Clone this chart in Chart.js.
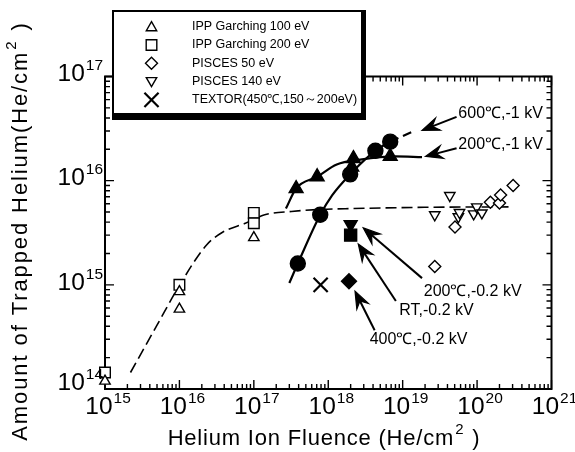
<!DOCTYPE html>
<html>
<head>
<meta charset="utf-8">
<script src="https://cdn.jsdelivr.net/npm/chart.js@4/dist/chart.umd.min.js"></script>
<style>
  html, body { margin: 0; padding: 0; background: #fff; }
  canvas { display: block; }
</style>
</head>
<body>
<canvas id="chart" width="575" height="452"></canvas>
<script>
// ---- data (He/cm^2) ----
const xTickExps = [15, 16, 17, 18, 19, 20, 21];
const yTickExps = [14, 15, 16, 17];

const ipp100X = [1e15, 1e16, 1e16, 1e17];
const ipp100Y = [1.19e14, 8.6e14, 5.85e14, 2.84e15];
const ipp200X = [1e15, 1e16, 1e17, 1e17];
const ipp200Y = [1.44e14, 1.0e15, 4.9e15, 3.9e15];
const pisces50X = [2.7e19, 5.05e19, 1.51e20, 2.0e20, 2.07e20, 3.05e20];
const pisces50Y = [1.5e15, 3.6e15, 6.2e15, 6.1e15, 7.3e15, 9.0e15];
const pisces140X = [2.7e19, 4.3e19, 5.6e19, 5.8e19, 9.0e19, 9.9e19, 1.16e20];
const pisces140Y = [4.7e15, 7.2e15, 4.5e15, 4.95e15, 4.8e15, 5.6e15, 4.9e15];
const textorX = [7.9e17];
const textorY = [1.0e15];

const c600kvX = [3.9e17, 7.8e17, 1.97e18, 4.3e18, 6.8e18];
const c600kvY = [1.6e15, 4.7e15, 1.15e16, 1.94e16, 2.37e16];
const c200kvX = [3.7e17, 7.1e17, 2.07e18, 2.18e18, 6.8e18];
const c200kvY = [8.4e15, 1.09e16, 1.35e16, 1.63e16, 1.71e16];
const c200lowX = [2e18];
const c200lowY = [3.8e15];
const rtLowX = [2e18];
const rtLowY = [3.0e15];
const c400lowX = [1.9e18];
const c400lowY = [1.08e15];

// guide curves
const fitX = [2.2e15, 5.0e15, 1.01e16, 2.3e16, 3.8e16, 7.7e16, 1.4e17, 3.2e17, 7.9e17, 2.2e18, 2.0e19, 3.0e20];
const fitY = [1.44e14, 4.1e14, 1.0e15, 2.4e15, 3.2e15, 3.9e15, 4.7e15, 5.06e15, 5.3e15, 5.4e15, 5.55e15, 5.6e15];
const curve600X = [3.0e17, 3.9e17, 7.8e17, 1.12e18, 1.97e18, 4.3e18, 6.8e18];
const curve600Y = [1.04e15, 1.6e15, 4.7e15, 7.2e15, 1.15e16, 1.94e16, 2.37e16];
const ext600X = [6.8e18, 1.42e19];
const ext600Y = [2.37e16, 3.0e16];
const curve200X = [2.7e17, 3.7e17, 7.1e17, 1.3e18, 2.7e18, 8.0e18, 1.82e19];
const curve200Y = [5.4e15, 8.4e15, 1.09e16, 1.43e16, 1.59e16, 1.71e16, 1.68e16];

const legendLabels = ['IPP Garching 100 eV', 'IPP Garching 200 eV', 'PISCES 50 eV', 'PISCES 140 eV', 'TEXTOR(450\u2103,150\uFF5E200eV)'];

const noteTexts = ['600\u2103,-1 kV', '200\u2103,-1 kV', '200\u2103,-0.2 kV', 'RT,-0.2 kV', '400\u2103,-0.2 kV'];
const noteAtX = [5.6e19, 5.6e19, 1.92e19, 9.0e18, 3.6e18];
const noteAtY = [4.36e16, 2.2e16, 8.7e14, 5.65e14, 2.96e14];
const arrowFromX = [5.3e19, 5.3e19, 1.82e19, 8.1e18, 4.2e18];
const arrowFromY = [4.1e16, 2.05e16, 1.16e15, 7.0e14, 3.66e14];
const arrowToX = [1.82e19, 2.02e19, 2.95e18, 2.53e18, 2.29e18];
const arrowToY = [3.04e16, 1.71e16, 3.52e15, 2.47e15, 8.7e14];

const FONT = '"Liberation Sans", Arial, Helvetica, sans-serif';

const pts = (xs, ys) => xs.map((x, i) => ({ x, y: ys[i] }));

function markerSet(label, xs, ys, style, radius, filled, extra) {
  return Object.assign({
    label, data: pts(xs, ys), pointStyle: style, pointRadius: radius,
    pointBorderColor: '#000', pointBackgroundColor: filled ? '#000' : '#fff',
    pointBorderWidth: 1.4, showLine: false, order: 0, clip: false,
  }, extra || {});
}

function lineSet(label, xs, ys, width, dash) {
  return {
    label, data: pts(xs, ys), showLine: true, pointRadius: 0, borderColor: '#000',
    borderWidth: width, borderDash: dash || [], tension: 0.4, cubicInterpolationMode: 'monotone',
    order: 10,
  };
}

function drawPow(ctx, exp, x, y, align, big, small, rise) {
  ctx.font = `${big}px ${FONT}`;
  const wb = ctx.measureText('10').width;
  ctx.font = `${small}px ${FONT}`;
  const we = ctx.measureText(String(exp)).width;
  const total = wb + 1 + we;
  const x0 = align === 'right' ? x - total : align === 'center' ? x - total / 2 : x;
  ctx.textAlign = 'left';
  ctx.textBaseline = 'middle';
  ctx.font = `${big}px ${FONT}`;
  ctx.fillText('10', x0, y);
  ctx.font = `${small}px ${FONT}`;
  ctx.fillText(String(exp), x0 + wb + 1, y - rise);
}

// text with a superscript 2 inside, e.g. "(He/cm² )"
function drawTitle(ctx, pre, post, cx, cy, big, small) {
  ctx.font = `${big}px ${FONT}`;
  const w1 = ctx.measureText(pre).width;
  const w3 = ctx.measureText(post).width;
  ctx.font = `${small}px ${FONT}`;
  const w2 = ctx.measureText('2').width;
  let x = cx - (w1 + w2 + w3 + 2) / 2;
  ctx.textAlign = 'left';
  ctx.textBaseline = 'middle';
  ctx.font = `${big}px ${FONT}`;
  ctx.fillText(pre, x, cy);
  x += w1 + 1;
  ctx.font = `${small}px ${FONT}`;
  ctx.fillText('2', x, cy - big * 0.42);
  x += w2 + 1;
  ctx.font = `${big}px ${FONT}`;
  ctx.fillText(post, x, cy);
}

function drawArrow(ctx, x1, y1, x2, y2) {
  const a = Math.atan2(y2 - y1, x2 - x1);
  const len = 17, half = 6.5, notch = 11;
  ctx.beginPath();
  ctx.moveTo(x1, y1);
  ctx.lineTo(x2 - Math.cos(a) * notch, y2 - Math.sin(a) * notch);
  ctx.lineWidth = 2;
  ctx.stroke();
  const bx = x2 - Math.cos(a) * len, by = y2 - Math.sin(a) * len;
  const nx = -Math.sin(a) * half, ny = Math.cos(a) * half;
  ctx.beginPath();
  ctx.moveTo(x2, y2);
  ctx.lineTo(bx + nx, by + ny);
  ctx.lineTo(x2 - Math.cos(a) * notch, y2 - Math.sin(a) * notch);
  ctx.lineTo(bx - nx, by - ny);
  ctx.closePath();
  ctx.fill();
  ctx.lineWidth = 1.2;
  ctx.stroke();
}

function legendMarker(ctx, i, x, y) {
  ctx.lineWidth = 1.4;
  ctx.strokeStyle = '#000';
  ctx.fillStyle = '#fff';
  const styles = ['triangle', 'rect', 'rectRot', 'triangle', 'crossRot'];
  const radii = [6, 7.5, 6, 6, 10];
  const rot = i === 3 ? 180 : 0;
  if (i === 4) ctx.lineWidth = 2.2;
  Chart.helpers.drawPoint(ctx, { pointStyle: styles[i], radius: radii[i], rotation: rot, borderWidth: ctx.lineWidth }, x, y);
}

const decor = {
  id: 'decor',
  beforeDatasetsDraw(chart) {
    const { ctx, chartArea: a, scales } = chart;
    ctx.save();
    ctx.strokeStyle = '#000';
    ctx.lineWidth = 2;
    ctx.strokeRect(a.left, a.top, a.right - a.left, a.bottom - a.top);
    ctx.lineWidth = 1.4;
    ctx.beginPath();
    const xLo = xTickExps[0], xHi = xTickExps[xTickExps.length - 1];
    for (let e = xLo; e <= xHi; e++) {
      for (let m = 1; m <= 9; m++) {
        if (e === xHi && m > 1) break;
        const p = scales.x.getPixelForValue(m * Math.pow(10, e));
        const len = m === 1 ? 9 : 5;
        ctx.moveTo(p, a.bottom); ctx.lineTo(p, a.bottom - len);
        ctx.moveTo(p, a.top); ctx.lineTo(p, a.top + len);
      }
    }
    const yLo = yTickExps[0], yHi = yTickExps[yTickExps.length - 1];
    for (let e = yLo; e <= yHi; e++) {
      for (let m = 1; m <= 9; m++) {
        if (e === yHi && m > 1) break;
        const p = scales.y.getPixelForValue(m * Math.pow(10, e));
        const len = m === 1 ? 9 : 5;
        ctx.moveTo(a.left, p); ctx.lineTo(a.left + len, p);
        ctx.moveTo(a.right, p); ctx.lineTo(a.right - len, p);
      }
    }
    ctx.stroke();
    ctx.restore();
  },
  afterDatasetsDraw(chart) {
    const { ctx, chartArea: a, scales } = chart;
    ctx.save();
    ctx.fillStyle = '#000';
    ctx.strokeStyle = '#000';

    // tick labels
    xTickExps.forEach(e => {
      const p = scales.x.getPixelForValue(Math.pow(10, e));
      drawPow(ctx, e, p + 3, a.bottom + 18.5, 'center', 24.5, 15.5, 8.5);
    });
    yTickExps.forEach((e, i) => {
      const p = scales.y.getPixelForValue(Math.pow(10, e));
      const dy = i === 0 ? -6 : -2;
      drawPow(ctx, e, a.left - 2, p + dy, 'right', 24.5, 15.5, 8.5);
    });

    // axis titles
    ctx.save();
    if ('letterSpacing' in ctx) ctx.letterSpacing = '0.8px';
    drawTitle(ctx, 'Helium Ion Fluence (He/cm', ' )', 324, 439, 22, 15);
    ctx.translate(21, 231);
    ctx.rotate(-Math.PI / 2);
    if ('letterSpacing' in ctx) ctx.letterSpacing = '1.9px';
    drawTitle(ctx, 'Amount of Trapped Helium(He/cm', ' )', 0, 0, 22, 15);
    ctx.restore();

    // annotations
    noteTexts.forEach((t, i) => {
      drawArrow(ctx,
        scales.x.getPixelForValue(arrowFromX[i]), scales.y.getPixelForValue(arrowFromY[i]),
        scales.x.getPixelForValue(arrowToX[i]), scales.y.getPixelForValue(arrowToY[i]));
      ctx.font = `16px ${FONT}`;
      ctx.textAlign = 'left';
      ctx.textBaseline = 'middle';
      ctx.fillText(t, scales.x.getPixelForValue(noteAtX[i]), scales.y.getPixelForValue(noteAtY[i]));
    });

    // legend box with heavy shadow on right / bottom
    ctx.fillStyle = '#000';
    ctx.fillRect(112, 10, 254, 110);
    ctx.fillStyle = '#fff';
    ctx.fillRect(114, 12, 247, 101);
    legendLabels.forEach((t, i) => {
      const y = 26.7 + i * 18.3;
      legendMarker(ctx, i, 151.5, y + (i === 0 ? 1 : i === 3 ? -1 : 0));
      ctx.fillStyle = '#000';
      ctx.font = `12.5px ${FONT}`;
      ctx.textAlign = 'left';
      ctx.textBaseline = 'middle';
      ctx.fillText(t, 192, y);
    });
    ctx.restore();
  }
};

new Chart(document.getElementById('chart'), {
  type: 'scatter',
  data: {
    datasets: [
      markerSet('IPP Garching 100 eV', ipp100X, ipp100Y, 'triangle', 6, false),
      markerSet('IPP Garching 200 eV', ipp200X, ipp200Y, 'rect', 7.5, false),
      markerSet('PISCES 50 eV', pisces50X, pisces50Y, 'rectRot', 6, false),
      markerSet('PISCES 140 eV', pisces140X, pisces140Y, 'triangle', 6, false, { rotation: 180 }),
      markerSet('TEXTOR', textorX, textorY, 'crossRot', 10, false, { pointBorderWidth: 2.2 }),
      markerSet('600C -1 kV', c600kvX, c600kvY, 'circle', 7.5, true),
      markerSet('200C -1 kV', c200kvX, c200kvY, 'triangle', 8, true),
      markerSet('200C -0.2 kV', c200lowX, c200lowY, 'triangle', 7.5, true, { rotation: 180 }),
      markerSet('RT -0.2 kV', rtLowX, rtLowY, 'rect', 8.5, true),
      markerSet('400C -0.2 kV', c400lowX, c400lowY, 'rectRot', 7.5, true),
      lineSet('fit', fitX, fitY, 1.6, [11, 5]),
      lineSet('600C curve', curve600X, curve600Y, 2.2),
      lineSet('600C extension', ext600X, ext600Y, 2.2, [9, 5]),
      lineSet('200C curve', curve200X, curve200Y, 2.2),
    ],
  },
  options: {
    responsive: false,
    animation: false,
    devicePixelRatio: 1,
    layout: { padding: { left: 97, right: 23.5, top: 76.5, bottom: 55 } },
    plugins: { legend: { display: false }, tooltip: { enabled: false } },
    scales: {
      x: {
        type: 'logarithmic', min: 1e15, max: 1e21,
        grid: { display: false }, border: { display: false }, ticks: { display: false },
      },
      y: {
        type: 'logarithmic', min: 1e14, max: 1e17,
        grid: { display: false }, border: { display: false }, ticks: { display: false },
      },
    },
  },
  plugins: [decor],
});
</script>
</body>
</html>
